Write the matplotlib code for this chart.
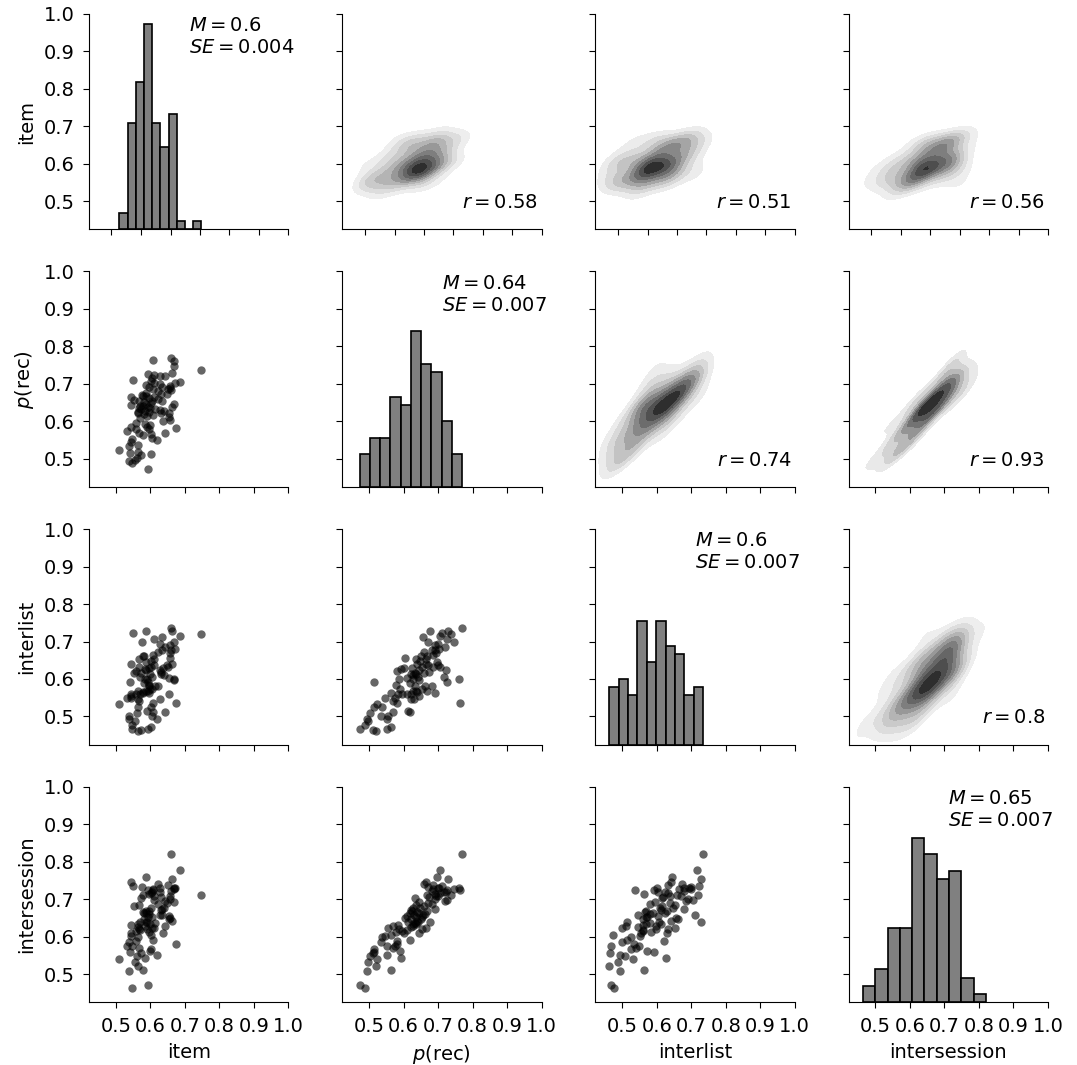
import numpy as np
import matplotlib
matplotlib.use('Agg')
from matplotlib import pyplot as plt
from matplotlib.ticker import MaxNLocator

# one value per subject, subjects ordered by p(rec)
item = [0.593, 0.548, 0.538, 0.555, 0.561, 0.572, 0.601, 0.541, 0.563, 0.510,
        0.538, 0.563, 0.545, 0.618, 0.547, 0.605, 0.580, 0.602, 0.566, 0.643,
        0.532, 0.597, 0.557, 0.673, 0.544, 0.590, 0.599, 0.585, 0.559, 0.638,
        0.657, 0.655, 0.570, 0.590, 0.582, 0.609, 0.654, 0.565, 0.630, 0.597,
        0.565, 0.641, 0.584, 0.628, 0.574, 0.614, 0.567, 0.599, 0.593, 0.662,
        0.578, 0.570, 0.543, 0.588, 0.668, 0.603, 0.581, 0.568, 0.604, 0.635,
        0.552, 0.621, 0.595, 0.612, 0.545, 0.580, 0.587, 0.577, 0.648, 0.630,
        0.586, 0.622, 0.660, 0.651, 0.607, 0.658, 0.595, 0.634, 0.657, 0.586,
        0.628, 0.612, 0.671, 0.686, 0.601, 0.551, 0.604, 0.643, 0.627, 0.612,
        0.592, 0.664, 0.748, 0.668, 0.669, 0.609, 0.660]

prec = [0.473, 0.489, 0.494, 0.497, 0.503, 0.510, 0.514, 0.515, 0.519, 0.523,
        0.534, 0.538, 0.545, 0.551, 0.553, 0.556, 0.563, 0.565, 0.568, 0.570,
        0.575, 0.579, 0.580, 0.581, 0.584, 0.586, 0.589, 0.593, 0.595, 0.602,
        0.604, 0.611, 0.609, 0.613, 0.620, 0.618, 0.621, 0.623, 0.622, 0.624,
        0.626, 0.627, 0.628, 0.630, 0.632, 0.633, 0.635, 0.636, 0.637, 0.639,
        0.640, 0.642, 0.644, 0.645, 0.646, 0.648, 0.652, 0.653, 0.654, 0.655,
        0.658, 0.660, 0.662, 0.664, 0.665, 0.667, 0.668, 0.671, 0.672, 0.673,
        0.676, 0.682, 0.683, 0.685, 0.686, 0.690, 0.691, 0.692, 0.695, 0.698,
        0.700, 0.701, 0.703, 0.706, 0.707, 0.711, 0.716, 0.721, 0.722, 0.725,
        0.727, 0.729, 0.738, 0.747, 0.760, 0.765, 0.770]

interlist = [0.467, 0.477, 0.492, 0.487, 0.508, 0.465, 0.525, 0.593, 0.462, 0.532,
             0.500, 0.524, 0.550, 0.492, 0.467, 0.500, 0.563, 0.473, 0.541, 0.512,
             0.549, 0.583, 0.622, 0.535, 0.559, 0.599, 0.573, 0.627, 0.561, 0.629,
             0.657, 0.603, 0.559, 0.514, 0.590, 0.513, 0.561, 0.546, 0.612, 0.630,
             0.569, 0.610, 0.599, 0.546, 0.616, 0.581, 0.654, 0.612, 0.568, 0.641,
             0.565, 0.606, 0.555, 0.623, 0.596, 0.648, 0.662, 0.633, 0.573, 0.712,
             0.616, 0.672, 0.581, 0.654, 0.641, 0.660, 0.568, 0.700, 0.638, 0.618,
             0.727, 0.581, 0.678, 0.633, 0.665, 0.690, 0.563, 0.678, 0.669, 0.645,
             0.693, 0.638, 0.680, 0.716, 0.632, 0.722, 0.605, 0.686, 0.625, 0.706,
             0.592, 0.728, 0.720, 0.698, 0.601, 0.536, 0.735]

intersession = [0.470, 0.464, 0.507, 0.532, 0.548, 0.555, 0.566, 0.558, 0.521, 0.539,
                0.586, 0.598, 0.601, 0.550, 0.576, 0.622, 0.512, 0.605, 0.569, 0.628,
                0.574, 0.612, 0.589, 0.581, 0.631, 0.621, 0.562, 0.543, 0.615, 0.610,
                0.649, 0.655, 0.617, 0.640, 0.664, 0.592, 0.648, 0.625, 0.672, 0.669,
                0.634, 0.677, 0.627, 0.658, 0.703, 0.636, 0.684, 0.633, 0.651, 0.641,
                0.666, 0.638, 0.609, 0.662, 0.693, 0.676, 0.646, 0.619, 0.653, 0.657,
                0.682, 0.741, 0.661, 0.624, 0.746, 0.711, 0.668, 0.733, 0.689, 0.706,
                0.639, 0.687, 0.722, 0.738, 0.726, 0.700, 0.713, 0.674, 0.708, 0.758,
                0.731, 0.709, 0.729, 0.778, 0.717, 0.735, 0.719, 0.695, 0.719, 0.698,
                0.724, 0.755, 0.712, 0.726, 0.729, 0.725, 0.820]

names = ['item', '$p$(rec)', 'interlist', 'intersession']
mean_labels = ['0.6', '0.64', '0.6', '0.65']
se_labels = ['0.004', '0.007', '0.007', '0.007']
r_labels = {(0, 1): '0.58', (0, 2): '0.51', (0, 3): '0.56',
            (1, 2): '0.74', (1, 3): '0.93', (2, 3): '0.8'}


def kde_grid(x, y, n=100, cut=3):
    data = np.vstack([x, y])
    cov = np.cov(data) * len(x) ** (-2 / 6)
    inv = np.linalg.inv(cov)
    bw = np.sqrt(np.diag(cov))
    xs = np.linspace(x.min() - cut * bw[0], x.max() + cut * bw[0], n)
    ys = np.linspace(y.min() - cut * bw[1], y.max() + cut * bw[1], n)
    xx, yy = np.meshgrid(xs, ys)
    d = np.stack([xx.ravel(), yy.ravel()])[:, :, None] - data[:, None, :]
    q = np.einsum('ipj,ik,kpj->pj', d, inv, d)
    z = np.exp(-0.5 * q).sum(axis=1) / (2 * np.pi * np.sqrt(np.linalg.det(cov)) * len(x))
    return xx, yy, z.reshape(xx.shape)


def main():
    plt.rcParams['font.size'] = 14
    plt.rcParams['xtick.major.size'] = 4
    plt.rcParams['ytick.major.size'] = 4
    plt.rcParams['xtick.major.pad'] = 6.5
    plt.rcParams['ytick.major.pad'] = 6.5
    plt.rcParams['axes.labelpad'] = 5
    cols = [np.array(v) for v in (item, prec, interlist, intersession)]

    fig, axes = plt.subplots(4, 4, figsize=(10.77, 10.65), dpi=100)
    fig.subplots_adjust(left=0.0826, right=0.973, bottom=0.059, top=0.987,
                        wspace=0.27, hspace=0.196)

    diag_twins = []
    for i in range(4):
        for j in range(4):
            ax = axes[i, j]
            x, y = cols[j], cols[i]
            if i == j:
                tw = ax.twinx()
                if diag_twins:
                    tw.sharey(diag_twins[0])
                diag_twins.append(tw)
                tw.hist(x, bins=10, color='#808080', edgecolor='k', linewidth=1.2)
                for s in tw.spines.values():
                    s.set_visible(False)
                tw.tick_params(right=False, labelright=False)
                ax.text(0.5, 0.99, '$M = %s$\n$SE = %s$' % (mean_labels[i], se_labels[i]),
                        transform=ax.transAxes, ha='left', va='top')
            elif i > j:
                ax.scatter(x, y, s=36, c='k', alpha=0.6, linewidths=0)
            else:
                xx, yy, z = kde_grid(x, y)
                levels = MaxNLocator(nbins=10).tick_values(z.min(), z.max())
                mids = (levels[:-1] + levels[1:]) / 2
                shade = 0.05 + 0.8 * (mids - mids[0]) / (mids[-1] - mids[0])
                colors = plt.cm.Greys(shade)
                ax.contourf(xx, yy, z, levels=levels[1:], colors=colors[1:])
                ax.text(0.985, 0.08, '$r = %s$' % r_labels[(i, j)],
                        transform=ax.transAxes, ha='right', va='bottom')

            ax.set_xlim(0.422, 1.0)
            ax.set_ylim(0.425, 1.0)
            ax.set_yticks(np.arange(0.5, 1.01, 0.1))
            if i == 0:
                ax.set_xticks([0.487, 0.574, 0.659, 0.744, 0.829, 0.915, 1.0])
            else:
                ax.set_xticks(np.arange(0.5, 1.01, 0.1))
            ax.spines['top'].set_visible(False)
            ax.spines['right'].set_visible(False)
            ax.tick_params(labelbottom=(i == 3), labelleft=(j == 0))
            if j == 0:
                ax.set_ylabel(names[i])
            if i == 3:
                ax.set_xlabel(names[j])
                ax.set_xticklabels(['0.5', '0.6', '0.7', '0.8', '0.9', '1.0'])

    fig.savefig('out.png', dpi=100)


if __name__ == '__main__':
    main()
